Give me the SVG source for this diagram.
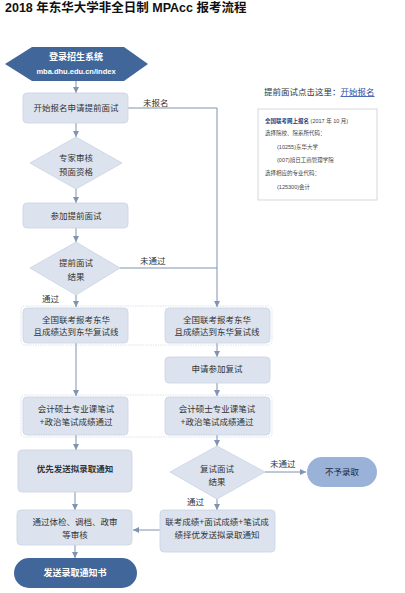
<svg xmlns="http://www.w3.org/2000/svg" width="405" height="593" viewBox="0 0 405 593">
<style>
text{font-family:"Liberation Sans","Noto Sans CJK SC",sans-serif;fill:#333;}
.t{font-size:8.5px;text-anchor:middle;}
.lbl{font-size:8.5px;}
.box{fill:#DCE3EE;stroke:#CAD3E2;stroke-width:0.8;}
.dk{fill:#41679A;}
.wt{fill:#fff;font-weight:bold;text-anchor:middle;}
.grp{fill:none;stroke:#D3DAE5;stroke-width:0.8;stroke-dasharray:1.5 1;}
.c{fill:none;stroke:#7F93B2;stroke-width:1;}
.ca{fill:none;stroke:#7F93B2;stroke-width:1;marker-end:url(#ah);}
.s{font-size:5.5px;fill:#444;}
</style>
<defs>
<marker id="ah" markerUnits="userSpaceOnUse" markerWidth="7" markerHeight="7" refX="6" refY="3" orient="auto">
<path d="M0,0 L6,3 L0,6 z" fill="#7F93B2"/>
</marker>
</defs>
<rect width="405" height="593" fill="#fff"/>
<text x="5" y="12" style="font-size:12.5px;font-weight:bold;fill:#111;">2018 年东华大学非全日制 MPAcc 报考流程</text>

<g id="groups">
<rect class="grp" x="21" y="306" width="251" height="39" rx="4"/>
<rect class="grp" x="21" y="395" width="251" height="42" rx="4"/>
</g>

<g id="connectors">
<line class="ca" x1="76" y1="81" x2="76" y2="93"/>
<polyline class="ca" points="128,108 217,108 217,307"/>
<line class="ca" x1="76" y1="123" x2="76" y2="137"/>
<line class="ca" x1="76" y1="189" x2="76" y2="203"/>
<line class="ca" x1="76" y1="228" x2="76" y2="242"/>
<line class="c" x1="120" y1="268" x2="217" y2="268"/>
<line class="ca" x1="76" y1="295" x2="76" y2="307"/>
<line class="ca" x1="76" y1="343" x2="76" y2="396"/>
<line class="ca" x1="217" y1="343" x2="217" y2="357"/>
<line class="ca" x1="217" y1="383" x2="217" y2="396"/>
<line class="ca" x1="76" y1="435" x2="76" y2="450"/>
<line class="ca" x1="217" y1="435" x2="217" y2="446"/>
<line class="ca" x1="265" y1="472" x2="306" y2="472"/>
<line class="ca" x1="217" y1="499" x2="217" y2="510"/>
<line class="ca" x1="160" y1="530" x2="133" y2="530"/>
<line class="ca" x1="75" y1="492" x2="75" y2="510"/>
<line class="ca" x1="75" y1="545" x2="75" y2="558"/>
<text class="lbl" x="143" y="106">未报名</text>
<text class="lbl" x="140" y="264">未通过</text>
<text class="lbl" x="42" y="302">通过</text>
<text class="lbl" x="270" y="467">未通过</text>
<text class="lbl" x="187" y="505">通过</text>
</g>

<g id="login">
<polygon class="dk" points="5,64 32,47 124,47 148,64 124,81 32,81"/>
<text class="wt" x="76" y="60" style="font-size:9px;">登录招生系统</text>
<text class="wt" x="76" y="74" style="font-size:7.5px;">mba.dhu.edu.cn/index</text>
</g>

<g id="apply">
<rect class="box" x="23" y="93" width="105" height="30" rx="4"/>
<text class="t" x="76" y="111">开始报名申请提前面试</text>
</g>

<g id="review">
<polygon class="box" points="76,137 122,163 76,189 30,163"/>
<text class="t" x="76" y="161">专家审核</text>
<text class="t" x="76" y="175">预面资格</text>
</g>

<g id="interview">
<rect class="box" x="23" y="203" width="105" height="25" rx="4"/>
<text class="t" x="76" y="219">参加提前面试</text>
</g>

<g id="result1">
<polygon class="box" points="76,242 120,268 76,295 30,268"/>
<text class="t" x="76" y="266">提前面试</text>
<text class="t" x="76" y="280">结果</text>
</g>

<g id="exam-left">
<rect class="box" x="23" y="308" width="105" height="35" rx="4"/>
<text class="t" x="76" y="323">全国联考报考东华</text>
<text class="t" x="76" y="335">且成绩达到东华复试线</text>
</g>

<g id="exam-right">
<rect class="box" x="165" y="308" width="105" height="35" rx="4"/>
<text class="t" x="217" y="323">全国联考报考东华</text>
<text class="t" x="217" y="335">且成绩达到东华复试线</text>
</g>

<g id="retest-apply">
<rect class="box" x="165" y="357" width="105" height="26" rx="4"/>
<text class="t" x="217" y="372">申请参加复试</text>
</g>

<g id="written-left">
<rect class="box" x="23" y="397" width="105" height="38" rx="4"/>
<text class="t" x="76" y="412">会计硕士专业课笔试</text>
<text class="t" x="76" y="425">+政治笔试成绩通过</text>
</g>

<g id="written-right">
<rect class="box" x="165" y="397" width="105" height="38" rx="4"/>
<text class="t" x="217" y="412">会计硕士专业课笔试</text>
<text class="t" x="217" y="425">+政治笔试成绩通过</text>
</g>

<g id="priority">
<rect class="box" x="18" y="450" width="114" height="42" rx="4"/>
<text class="t" x="75" y="472" style="font-weight:bold;">优先发送拟录取通知</text>
</g>

<g id="result2">
<polygon class="box" points="217,446 265,472 217,499 170,472"/>
<text class="t" x="217" y="472">复试面试</text>
<text class="t" x="217" y="485">结果</text>
</g>

<g id="reject">
<rect x="307" y="457" width="70" height="30" rx="15" fill="#9AB2D8"/>
<text class="t" x="342" y="475" style="fill:#1C2638;">不予录取</text>
</g>

<g id="score">
<rect class="box" x="160" y="510" width="115" height="42" rx="4"/>
<text class="t" x="217" y="525">联考成绩+面试成绩+笔试成</text>
<text class="t" x="217" y="538">绩择优发送拟录取通知</text>
</g>

<g id="check">
<rect class="box" x="17" y="510" width="115" height="35" rx="4"/>
<text class="t" x="75" y="525">通过体检、调档、政审</text>
<text class="t" x="75" y="538">等审核</text>
</g>

<g id="notice">
<rect class="dk" x="14" y="558" width="123" height="30" rx="15"/>
<text class="wt" x="75" y="576" style="font-size:9px;">发送录取通知书</text>
</g>

<g id="info">
<text x="264" y="95" style="font-size:8.5px;">提前面试点击这里：<tspan text-decoration="underline" style="fill:#2F4FA8;">开始报名</tspan></text>
<rect x="258" y="109" width="119" height="91" fill="#fff" stroke="#C8CDD6" stroke-width="0.8"/>
<text class="s" x="265" y="123"><tspan style="font-weight:bold;fill:#27407A;">全国联考网上报名</tspan> (2017 年 10 月)</text>
<text class="s" x="265" y="135">选择院校、院系所代码：</text>
<text class="s" x="277" y="149">(10255)东华大学</text>
<text class="s" x="277" y="162">(007)旭日工商管理学院</text>
<text class="s" x="265" y="175">选择相应的专业代码：</text>
<text class="s" x="277" y="189">(125300)会计</text>
</g>
</svg>
